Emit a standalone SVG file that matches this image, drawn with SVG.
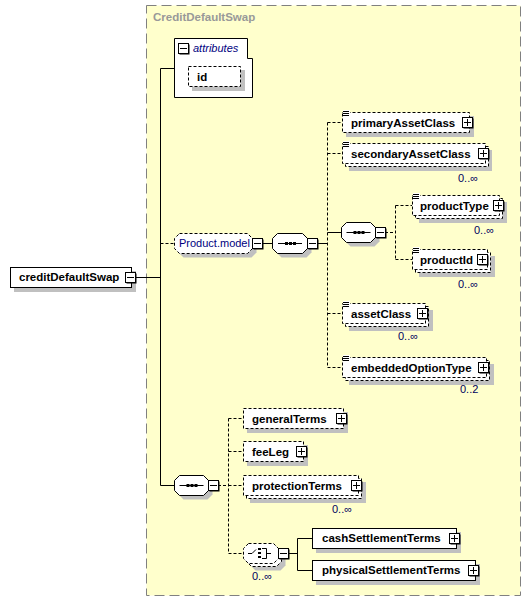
<svg xmlns="http://www.w3.org/2000/svg" xmlns:xlink="http://www.w3.org/1999/xlink" width="531" height="602" viewBox="0 0 531 602">
<style>
.bg{fill:#ffffcc;stroke:#808080;stroke-width:1;stroke-dasharray:10,5}
.box{fill:#fff;stroke:#000;stroke-width:1}
.dbox{fill:#fff;stroke:#000;stroke-width:1;stroke-dasharray:3,2}
.sh{fill:#c0c0c0}
.ln{stroke:#000;stroke-width:1;fill:none}
.dl{stroke:#000;stroke-width:1;fill:none;stroke-dasharray:3,2}
.t{font-family:"Liberation Sans",Arial,sans-serif;font-size:11.5px;font-weight:bold;fill:#000}
.g{font-family:"Liberation Sans",Arial,sans-serif;font-size:11px;fill:#000080}
.occ{font-family:"Liberation Sans",Arial,sans-serif;font-size:11px;fill:#000060}
.title{font-family:"Liberation Sans",Arial,sans-serif;font-size:11.5px;font-weight:bold;fill:#999}
</style>
<defs>
<g id="minus"><rect x="1.5" y="1.5" width="10" height="10" fill="#000"/><rect x="0.5" y="0.5" width="10" height="10" class="box"/><path d="M2,5.5H9" class="ln"/></g>
<g id="plus"><rect x="1.5" y="1.5" width="10" height="10" fill="#000"/><rect x="0.5" y="0.5" width="10" height="10" class="box"/><path d="M2,5.5H9M5.5,2V9" class="ln"/></g>
<g id="seqIcon"><path d="M-12,0.5H12" class="ln"/><rect x="-5" y="-1" width="3" height="3" fill="#000"/><rect x="-1" y="-1" width="3" height="3" fill="#000"/><rect x="3" y="-1" width="3" height="3" fill="#000"/></g>
<g id="eq"><rect x="0" y="-1" width="7" height="7" fill="#fff"/><path d="M0,0.5H6M0,2.5H6M0,4.5H6" class="ln"/></g>
</defs>

<g id="complexType">
<rect x="146.5" y="5.5" width="374" height="590" class="bg"/>
<text x="153" y="21" class="title">CreditDefaultSwap</text>
</g>

<g id="connectors">
<path d="M136,277.5H160.5M160.5,68.5V485.5H174M160.5,68.5H174" class="ln"/>
<path d="M160.5,243.5H174" class="dl"/>
<path d="M262,243.5H272.5M317,243.5H327.5M327.5,232.5H341" class="ln"/>
<path d="M327.5,122.5V367.5M327.5,122.5H342M327.5,153.5H342M327.5,313.5H342M327.5,367.5H342" class="dl"/>
<path d="M385,232.5H395.5M395.5,205.5V259.5M395.5,205.5H412M395.5,259.5H412" class="dl"/>
<path d="M218,485.5H228.5M228.5,418.5V553.5M228.5,418.5H243M228.5,451.5H243M228.5,485.5H243M228.5,553.5H243" class="dl"/>
<path d="M288,553.5H297.5M297.5,538.5V570.5M297.5,538.5H312M297.5,570.5H312" class="ln"/>
</g>

<g id="creditDefaultSwap">
<rect x="14" y="271" width="122" height="21" class="sh"/>
<rect x="10.5" y="267.5" width="121" height="20" class="box"/>
<text x="19" y="281" class="t">creditDefaultSwap</text>
<use xlink:href="#minus" x="125" y="272"/>
</g>

<g id="attributes">
<path d="M174.5,38.5H247.5V58.5H252.5V97.5H174.5Z" class="box"/>
<use xlink:href="#minus" x="178" y="43"/>
<text x="193" y="52" class="g" font-style="italic">attributes</text>
<rect x="192" y="70" width="53" height="21" class="sh"/>
<rect x="188.5" y="66.5" width="52" height="20" class="dbox"/>
<text x="197" y="81" class="t">id</text>
</g>

<g id="productModel">
<path d="M179.5,233.5H247.5L252.5,238.5V248.5L247.5,253.5H179.5L174.5,248.5V238.5Z" class="sh" transform="translate(4,4)"/>
<path d="M179.5,233.5H247.5L252.5,238.5V248.5L247.5,253.5H179.5L174.5,248.5V238.5Z" class="dbox"/>
<text x="179" y="247" class="g">Product.model</text>
<use xlink:href="#minus" x="252" y="238"/>
</g>

<g id="sequence1">
<path d="M277.5,233.5H302.5L307.5,238.5V248.5L302.5,253.5H277.5L272.5,248.5V238.5Z" class="sh" transform="translate(4,4)"/>
<path d="M277.5,233.5H302.5L307.5,238.5V248.5L302.5,253.5H277.5L272.5,248.5V238.5Z" class="box"/>
<use xlink:href="#seqIcon" transform="translate(290,243)"/>
<use xlink:href="#minus" x="307" y="238"/>
</g>

<g id="primaryAssetClass">
<rect x="346" y="116" width="128" height="21" class="sh"/>
<rect x="342.5" y="112.5" width="127" height="20" class="dbox"/>
<use xlink:href="#eq" x="343" y="111"/>
<text x="351" y="127" class="t">primaryAssetClass</text>
<use xlink:href="#plus" x="462" y="117"/>
</g>

<g id="secondaryAssetClass">
<rect x="349" y="150" width="143" height="21" class="sh"/>
<rect x="345.5" y="146.5" width="143" height="20" class="dbox"/>
<rect x="342.5" y="143.5" width="143" height="20" class="dbox"/>
<use xlink:href="#eq" x="343" y="142"/>
<text x="351" y="158" class="t">secondaryAssetClass</text>
<use xlink:href="#plus" x="478" y="148"/>
<text x="458" y="182" class="occ">0..∞</text>
</g>

<g id="sequence2">
<path d="M346.5,222.5H370.5L375.5,227.5V237.5L370.5,242.5H346.5L341.5,237.5V227.5Z" class="sh" transform="translate(4,4)"/>
<path d="M346.5,222.5H370.5L375.5,227.5V237.5L370.5,242.5H346.5L341.5,237.5V227.5Z" class="box"/>
<use xlink:href="#seqIcon" transform="translate(358.5,232)"/>
<use xlink:href="#minus" x="375" y="227"/>
</g>

<g id="productType">
<rect x="419" y="202" width="88" height="21" class="sh"/>
<rect x="415.5" y="198.5" width="87" height="20" class="dbox"/>
<rect x="412.5" y="195.5" width="87" height="20" class="dbox"/>
<use xlink:href="#eq" x="413" y="194"/>
<text x="420" y="210" class="t">productType</text>
<use xlink:href="#plus" x="493" y="200"/>
<text x="474" y="234" class="occ">0..∞</text>
</g>

<g id="productId">
<rect x="419" y="256" width="76" height="21" class="sh"/>
<rect x="415.5" y="252.5" width="75" height="20" class="dbox"/>
<rect x="412.5" y="249.5" width="75" height="20" class="dbox"/>
<use xlink:href="#eq" x="413" y="248"/>
<text x="420" y="264" class="t">productId</text>
<use xlink:href="#plus" x="477" y="254"/>
<text x="458" y="288" class="occ">0..∞</text>
</g>

<g id="assetClass">
<rect x="349" y="310" width="84" height="21" class="sh"/>
<rect x="345.5" y="306.5" width="83" height="20" class="dbox"/>
<rect x="342.5" y="303.5" width="83" height="20" class="dbox"/>
<use xlink:href="#eq" x="343" y="302"/>
<text x="351" y="318" class="t">assetClass</text>
<use xlink:href="#plus" x="417" y="308"/>
<text x="398" y="340" class="occ">0..∞</text>
</g>

<g id="embeddedOptionType">
<rect x="349" y="364" width="145" height="21" class="sh"/>
<rect x="345.5" y="360.5" width="144" height="20" class="dbox"/>
<rect x="342.5" y="357.5" width="144" height="20" class="dbox"/>
<use xlink:href="#eq" x="343" y="356"/>
<text x="351" y="372" class="t">embeddedOptionType</text>
<use xlink:href="#plus" x="478" y="362"/>
<text x="460" y="393" class="occ">0..2</text>
</g>

<g id="sequence3">
<path d="M179.5,475.5H203.5L208.5,480.5V490.5L203.5,495.5H179.5L174.5,490.5V480.5Z" class="sh" transform="translate(4,4)"/>
<path d="M179.5,475.5H203.5L208.5,480.5V490.5L203.5,495.5H179.5L174.5,490.5V480.5Z" class="box"/>
<use xlink:href="#seqIcon" transform="translate(191.5,485)"/>
<use xlink:href="#minus" x="208" y="480"/>
</g>

<g id="generalTerms">
<rect x="247" y="412" width="101" height="21" class="sh"/>
<rect x="243.5" y="408.5" width="100" height="20" class="dbox"/>
<text x="252" y="423" class="t">generalTerms</text>
<use xlink:href="#plus" x="336" y="413"/>
</g>

<g id="feeLeg">
<rect x="247" y="445" width="61" height="21" class="sh"/>
<rect x="243.5" y="441.5" width="60" height="20" class="dbox"/>
<text x="252" y="456" class="t">feeLeg</text>
<use xlink:href="#plus" x="296" y="446"/>
</g>

<g id="protectionTerms">
<rect x="250" y="482" width="116" height="21" class="sh"/>
<rect x="246.5" y="478.5" width="115" height="20" class="dbox"/>
<rect x="243.5" y="475.5" width="115" height="20" class="dbox"/>
<text x="252" y="490" class="t">protectionTerms</text>
<use xlink:href="#plus" x="351" y="480"/>
<text x="332" y="513" class="occ">0..∞</text>
</g>

<g id="choice">
<path d="M248.5,543.5H273.5L278.5,548.5V558.5L273.5,563.5H248.5L243.5,558.5V548.5Z" class="sh" transform="translate(7,7)"/>
<path d="M248.5,543.5H273.5L278.5,548.5V558.5L273.5,563.5H248.5L243.5,558.5V548.5Z" class="dbox" transform="translate(3,3)"/>
<path d="M248.5,543.5H273.5L278.5,548.5V558.5L273.5,563.5H248.5L243.5,558.5V548.5Z" class="dbox"/>
<path d="M248,553.5H252L256,549.5M262,548.5H266.5V558.5H262M266.5,553.5H271" class="ln"/>
<rect x="258" y="548" width="3" height="2" fill="#000"/>
<rect x="258" y="552" width="3" height="2" fill="#000"/>
<rect x="258" y="556" width="3" height="2" fill="#000"/>
<use xlink:href="#minus" x="278" y="548"/>
<text x="252" y="580" class="occ">0..∞</text>
</g>

<g id="cashSettlementTerms">
<rect x="316" y="532" width="145" height="21" class="sh"/>
<rect x="312.5" y="528.5" width="144" height="20" class="box"/>
<text x="322" y="542" class="t">cashSettlementTerms</text>
<use xlink:href="#plus" x="449" y="533"/>
</g>

<g id="physicalSettlementTerms">
<rect x="316" y="564" width="164" height="21" class="sh"/>
<rect x="312.5" y="560.5" width="163" height="20" class="box"/>
<text x="322" y="574" class="t">physicalSettlementTerms</text>
<use xlink:href="#plus" x="468" y="565"/>
</g>
</svg>
